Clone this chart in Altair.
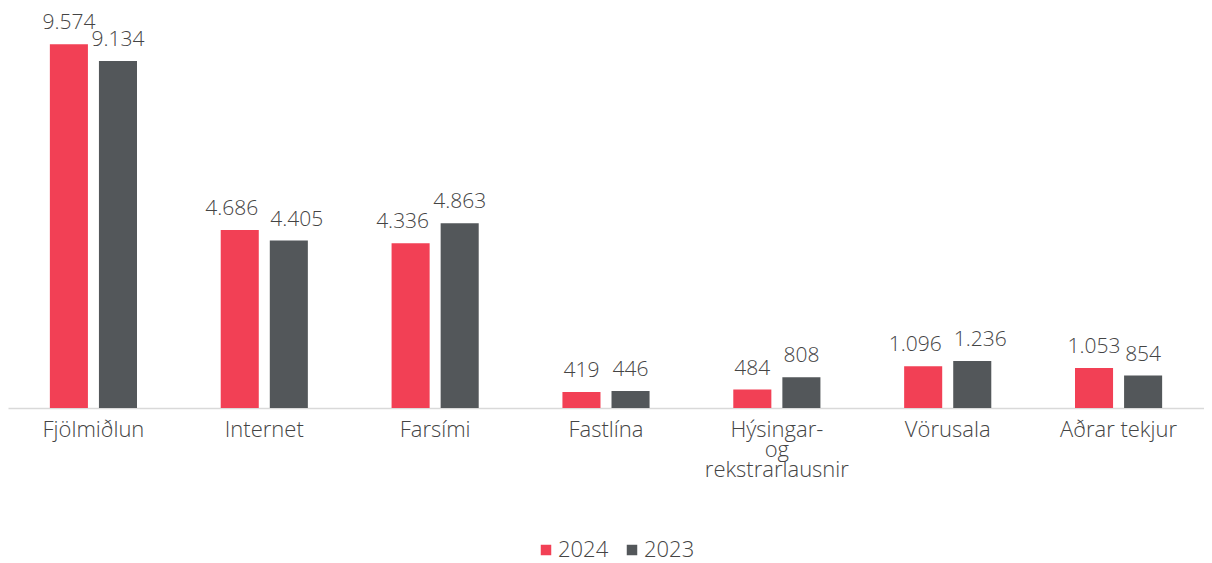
import altair as alt
import pandas as pd

categories = ["Fjölmiðlun", "Internet", "Farsími", "Fastlína",
              "Hýsingar- og rekstrarlausnir", "Vörusala", "Aðrar tekjur"]
values_2024 = [9574, 4686, 4336, 419, 484, 1096, 1053]
values_2023 = [9134, 4405, 4863, 446, 808, 1236, 854]
series = ["2024", "2023"]
colors = ["#f24055", "#53575a"]

rows = []
for c, a, b in zip(categories, values_2024, values_2023):
    rows.append({"cat": c, "year": "2024", "value": a})
    rows.append({"cat": c, "year": "2023", "value": b})
df = pd.DataFrame(rows)
df["label"] = df["value"].map(lambda v: f"{v:,}".replace(",", "."))

FONT = "Open Sans"
TXT = "#444444"

base = alt.Chart(df).encode(
    x=alt.X("cat:N", sort=categories, title=None,
            scale=alt.Scale(paddingInner=0.49, paddingOuter=0.245),
            axis=alt.Axis(labelAngle=0, ticks=False, domainColor="#d9d9d9",
                          domainWidth=1.5, labelFont=FONT, labelFontSize=22,
                          labelFontWeight=300,
                          labelColor=TXT, labelPadding=11, labelLineHeight=20,
                          labelLimit=300,
                          labelExpr="datum.value == 'Hýsingar- og rekstrarlausnir' ? ['Hýsingar-', 'og', 'rekstrarlausnir'] : datum.value")),
    xOffset=alt.XOffset("year:N", sort=series,
                        scale=alt.Scale(paddingInner=0.2245, paddingOuter=0)),
    y=alt.Y("value:Q", scale=alt.Scale(domain=[0, 10000]), axis=None),
)

bars = base.mark_bar().encode(
    color=alt.Color("year:N", sort=series,
                    scale=alt.Scale(domain=series, range=colors),
                    legend=alt.Legend(title=None, orient="none", direction="horizontal",
                                      legendX=527, legendY=511,
                                      symbolType="square", symbolSize=110,
                                      symbolStrokeWidth=0,
                                      labelFont=FONT, labelFontSize=22,
                                      labelFontWeight=300,
                                      labelColor=TXT, columnPadding=12,
                                      labelOffset=1))
)

text_style = dict(baseline="alphabetic", dy=-15, font=FONT, fontSize=21,
                  fontWeight=300, color=TXT)

# Labels that sit side by side at a similar height are pushed apart, as in the original
left_pairs = "(datum.year == '2024' && (datum.cat == 'Internet' || datum.cat == 'Farsími' || datum.cat == 'Vörusala'))"
right_pairs = "(datum.year == '2023' && (datum.cat == 'Internet' || datum.cat == 'Vörusala'))"

labels = base.mark_text(**text_style).encode(text="label:N").transform_filter(
    f"!{left_pairs} && !{right_pairs}")
labels_l = base.mark_text(dx=-8, **text_style).encode(text="label:N").transform_filter(left_pairs)
labels_r = base.mark_text(dx=8, **text_style).encode(text="label:N").transform_filter(right_pairs)

chart = alt.layer(bars, labels, labels_l, labels_r).properties(
    width=1196, height=380,
    autosize=alt.AutoSizeParams(type="none"),
    padding={"left": 0, "right": 0, "top": 20, "bottom": 155},
).configure_view(stroke=None)

chart.save("out.html", embed_options={"renderer": "svg", "actions": False})
